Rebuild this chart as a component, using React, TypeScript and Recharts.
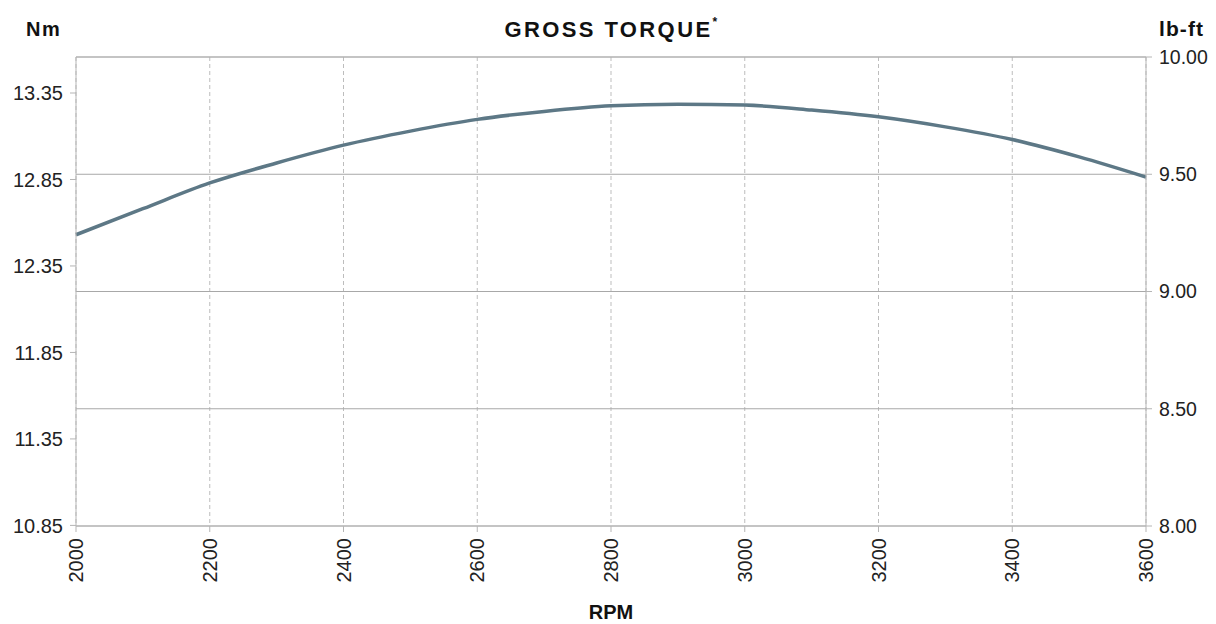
import React from "react";
import {
  LineChart,
  Line,
  XAxis,
  YAxis,
  CartesianGrid,
  ReferenceLine
} from "recharts";

// torque curve in lb-ft
const rpm = [2000, 2100, 2200, 2300, 2400, 2500, 2600, 2700, 2800, 2900, 3000, 3100, 3200, 3300, 3400, 3500, 3600];
const torqueLbFt = [9.242, 9.353, 9.463, 9.548, 9.624, 9.684, 9.734, 9.768, 9.792, 9.799, 9.795, 9.774, 9.745, 9.702, 9.648, 9.574, 9.488];

const rpmTicks = [2000, 2200, 2400, 2600, 2800, 3000, 3200, 3400, 3600];
const nmTicks = [10.85, 11.35, 11.85, 12.35, 12.85, 13.35];
const lbFtTicks = [8, 8.5, 9, 9.5, 10];

const NM_PER_LBFT = 1.35582;

const data = rpm.map((r, i) => ({ rpm: r, lbft: torqueLbFt[i] }));

const FONT = "'Liberation Sans', Arial, sans-serif";
const AXIS_GRAY = "#b5b5b5";

const RpmTick = (props: any) => {
  const { x, y, payload } = props;
  return (
    <text
      x={x}
      y={y}
      transform={`rotate(-90 ${x} ${y})`}
      textAnchor="end"
      dy="0.36em"
      fontSize={20}
      fill="#222"
      fontFamily={FONT}
    >
      {payload.value}
    </text>
  );
};

const App: React.FC = () => {
  return (
    <div style={{ position: "relative", width: 1200, height: 616, fontFamily: FONT }}>
      <div
        style={{
          position: "absolute",
          left: 0,
          width: 1208,
          top: 9,
          textAlign: "center",
          fontSize: 22,
          fontWeight: 700,
          letterSpacing: 2.4,
          color: "#111"
        }}
      >
        GROSS TORQUE<span style={{ fontSize: 12, verticalAlign: "top", position: "relative", top: -2 }}>*</span>
      </div>
      <div style={{ position: "absolute", left: 18, top: 10, fontSize: 20, fontWeight: 700, letterSpacing: 1.5, color: "#111" }}>Nm</div>
      <div style={{ position: "absolute", left: 1151, top: 9, fontSize: 21, fontWeight: 700, letterSpacing: 1.1, color: "#111" }}>lb-ft</div>

      <LineChart width={1200} height={616} data={data} margin={{ top: 49, right: 0, bottom: 0, left: 0 }}>
        <CartesianGrid yAxisId="right" horizontal={false} stroke="#bdbdbd" strokeDasharray="4 3" />
        <CartesianGrid yAxisId="right" vertical={false} stroke="#a8a8a8" />
        <ReferenceLine yAxisId="right" y={10} stroke={AXIS_GRAY} />
        <XAxis
          dataKey="rpm"
          type="number"
          domain={[2000, 3600]}
          ticks={rpmTicks}
          height={98}
          tickSize={6}
          tickMargin={6}
          stroke={AXIS_GRAY}
          tick={<RpmTick />}
          label={{ value: "RPM", position: "insideBottom", offset: 5, fontSize: 20, fontWeight: 700, fill: "#111", fontFamily: FONT }}
        />
        <YAxis
          yAxisId="left"
          orientation="left"
          type="number"
          domain={[8 * NM_PER_LBFT, 10 * NM_PER_LBFT]}
          allowDataOverflow
          ticks={nmTicks}
          tickFormatter={(v: number) => v.toFixed(2)}
          width={68}
          tickSize={6}
          tickMargin={7}
          stroke={AXIS_GRAY}
          tick={{ fontSize: 20, fill: "#222", fontFamily: FONT }}
        />
        <YAxis
          yAxisId="right"
          orientation="right"
          type="number"
          domain={[8, 10]}
          ticks={lbFtTicks}
          tickFormatter={(v: number) => v.toFixed(2)}
          width={62}
          tickSize={6}
          tickMargin={7}
          stroke={AXIS_GRAY}
          tick={{ fontSize: 19.5, fill: "#222", fontFamily: FONT }}
        />
        <Line
          yAxisId="right"
          type="monotone"
          dataKey="lbft"
          stroke="#5d7886"
          strokeWidth={3.5}
          dot={false}
          isAnimationActive={false}
        />
      </LineChart>
    </div>
  );
};

export default App;
